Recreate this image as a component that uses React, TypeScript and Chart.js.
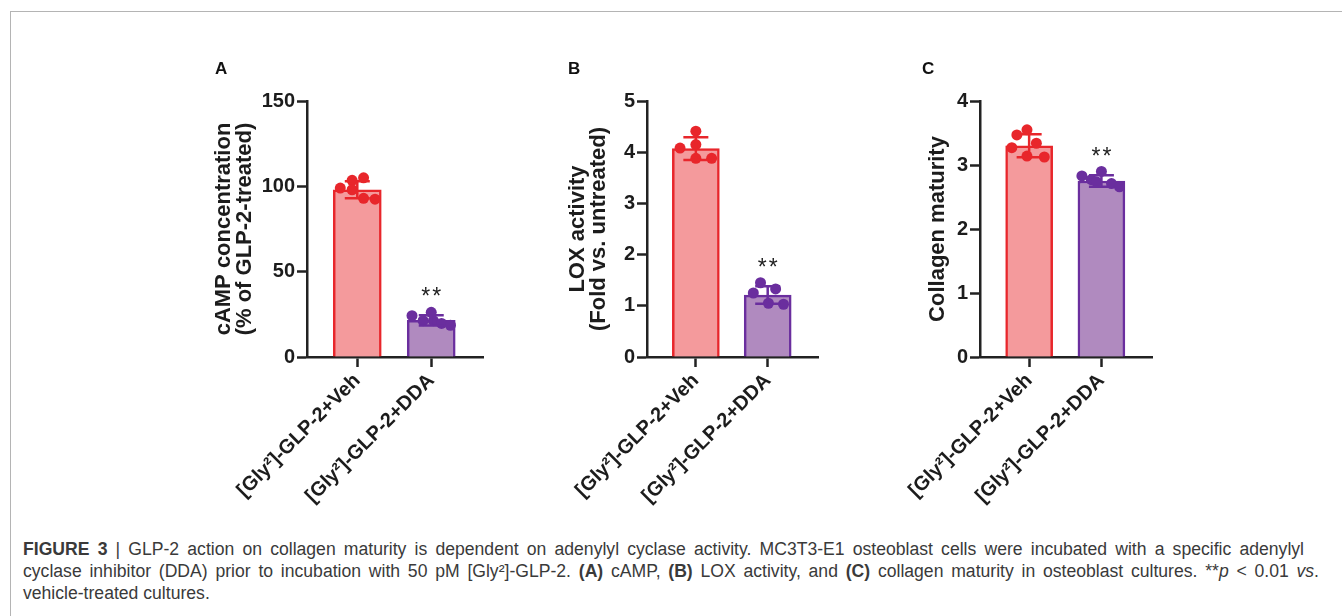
import React, { useEffect, useRef } from "react";
import { Chart, registerables } from "chart.js";

Chart.register(...registerables);

const FONT = "'Liberation Sans', Arial, Helvetica, sans-serif";

// ---------- data ----------
const categories = ["[Gly²]-GLP-2+Veh", "[Gly²]-GLP-2+DDA"];

// Panel A – cAMP
const titleA = ["cAMP concentration", "(% of GLP-2-treated)"];
const ticksA = [0, 50, 100, 150];
const meanA = [98, 21.5];
const sdA = [5, 3];
const vehA = [99, 103.5, 105, 98, 93, 92.5];
const vehJitterA = [-0.23, -0.07, 0.085, -0.07, 0.085, 0.24];
const ddaA = [24.2, 21.3, 26.2, 21.3, 19.7, 18.6];
const ddaJitterA = [-0.26, -0.11, 0, 0.03, 0.14, 0.26];
const sigA = ["", "**"];

// Panel B – LOX activity
const titleB = ["LOX activity", "(Fold vs. untreated)"];
const ticksB = [0, 1, 2, 3, 4, 5];
const meanB = [4.07, 1.21];
const sdB = [0.22, 0.17];
const vehB = [4.08, 4.41, 4.15, 3.88, 3.88];
const vehJitterB = [-0.22, 0, 0, 0, 0.22];
const ddaB = [1.25, 1.45, 1.33, 1.05, 1.03];
const ddaJitterB = [-0.2, -0.1, 0.11, 0.01, 0.22];
const sigB = ["", "**"];

// Panel C – Collagen maturity
const titleC = ["Collagen maturity"];
const ticksC = [0, 1, 2, 3, 4];
const meanC = [3.3, 2.75];
const sdC = [0.18, 0.09];
const vehC = [3.47, 3.55, 3.27, 3.34, 3.14, 3.125];
const vehJitterC = [-0.17, -0.03, -0.24, 0.1, -0.03, 0.21];
const ddaC = [2.83, 2.9, 2.77, 2.71, 2.66, 2.74];
const ddaJitterC = [-0.27, 0, -0.14, 0.14, 0.25, -0.07];
const sigC = ["", "**"];

// ---------- styles ----------
const RED = "#E8262B";
const PINK = "#F49A9C";
const PURPLE = "#6A2E9E";
const LAVENDER = "#B08ABF";
const AXIS = "#222222";
const TEXT = "#1c1c1c";

type PanelProps = {
  letter: string;
  title: string[];
  ticks: number[];
  means: number[];
  sds: number[];
  veh: number[];
  vehJitter: number[];
  dda: number[];
  ddaJitter: number[];
  sig: string[];
  left: number;
  letterLeft: number;
  titlePad: number;
  padRight: number;
  barThickness: number;
};

const CANVAS_TOP = 40;
const CANVAS_W = 300;
const CANVAS_H = 480;
const AXIS_W = 107;

function Panel(p: PanelProps) {
  const ref = useRef<HTMLCanvasElement | null>(null);

  useEffect(() => {
    if (!ref.current) return;
    const errPlugin = {
      id: "errbars",
      afterDatasetsDraw(chart: any) {
        const { ctx } = chart;
        const x = chart.scales.x;
        const y = chart.scales.y;
        ctx.save();
        p.means.forEach((m, i) => {
          const px = x.getPixelForValue(i);
          const top = y.getPixelForValue(m + p.sds[i]);
          const bot = y.getPixelForValue(m - p.sds[i]);
          const col = i === 0 ? RED : PURPLE;
          ctx.strokeStyle = col;
          ctx.lineWidth = 2.5;
          ctx.lineCap = "butt";
          ctx.beginPath();
          ctx.moveTo(px, top);
          ctx.lineTo(px, bot);
          ctx.moveTo(px - 12.5, top);
          ctx.lineTo(px + 12.5, top);
          ctx.moveTo(px - 12.5, bot);
          ctx.lineTo(px + 12.5, bot);
          ctx.stroke();
          if (p.sig[i]) {
            ctx.fillStyle = "#222";
            ctx.font = `23px ${FONT}`;
            (ctx as any).letterSpacing = "2px";
            ctx.textAlign = "center";
            ctx.textBaseline = "alphabetic";
            ctx.fillText(p.sig[i], px + 1, top - 11);
          }
        });
        ctx.restore();
      },
    };

    const chart = new Chart(ref.current, {
      type: "bar",
      data: {
        datasets: [
          {
            type: "scatter",
            data: p.veh.map((v, i) => ({ x: 0 + p.vehJitter[i], y: v })),
            backgroundColor: RED,
            borderWidth: 0,
            pointRadius: 5.5,
            order: 0,
          } as any,
          {
            type: "scatter",
            data: p.dda.map((v, i) => ({ x: 1 + p.ddaJitter[i], y: v })),
            backgroundColor: PURPLE,
            borderWidth: 0,
            pointRadius: 5.5,
            order: 0,
          } as any,
          {
            type: "bar",
            data: p.means.map((m, i) => ({ x: i, y: m })),
            backgroundColor: [PINK, LAVENDER],
            borderColor: [RED, PURPLE],
            borderWidth: 2.5,
            borderSkipped: "bottom",
            barThickness: p.barThickness,
            order: 2,
          } as any,
        ],
      },
      options: {
        animation: false,
        responsive: false,
        events: [],
        layout: { padding: { top: 61, left: 0, right: p.padRight, bottom: 0 } },
        plugins: {
          legend: { display: false },
          tooltip: { enabled: false },
          title: { display: false },
        },
        scales: {
          x: {
            type: "linear",
            min: -0.68,
            max: 1.7,
            offset: false,
            afterBuildTicks: (s: any) => {
              s.ticks = categories.map((_, i) => ({ value: i }));
            },
            afterFit: (s: any) => {
              s.height = 163;
            },
            ticks: {
              callback: (v: any) => categories[Number(v)] ?? "",
              maxRotation: 45,
              minRotation: 45,
              autoSkip: false,
              padding: 2,
              color: TEXT,
              font: { family: FONT, size: 20, weight: "bold" },
            },
            grid: {
              offset: false,
              drawOnChartArea: false,
              drawTicks: true,
              tickLength: 10,
              tickWidth: 2.5,
              color: AXIS,
            },
            border: { display: true, color: AXIS, width: 2.5 },
          },
          y: {
            type: "linear",
            min: p.ticks[0],
            max: p.ticks[p.ticks.length - 1],
            afterBuildTicks: (s: any) => {
              s.ticks = p.ticks.map((v) => ({ value: v }));
            },
            afterFit: (s: any) => {
              s.width = AXIS_W;
            },
            ticks: {
              padding: 2,
              color: TEXT,
              font: { family: FONT, size: 20, weight: "bold" },
            },
            grid: {
              drawOnChartArea: false,
              drawTicks: true,
              tickLength: 10,
              tickWidth: 2.5,
              color: AXIS,
            },
            border: { display: true, color: AXIS, width: 2.5 },
            title: {
              display: true,
              text: p.title,
              color: TEXT,
              font: { family: FONT, size: 22, weight: "bold", lineHeight: 0.98 },
              padding: { top: p.titlePad, bottom: 0 },
            },
          },
        },
      } as any,
      plugins: [errPlugin],
    });
    return () => chart.destroy();
  }, []);

  return (
    <>
      <canvas
        ref={ref}
        width={CANVAS_W}
        height={CANVAS_H}
        style={{
          position: "absolute",
          left: p.left,
          top: CANVAS_TOP,
          width: CANVAS_W,
          height: CANVAS_H,
        }}
      />
      <div
        style={{
          position: "absolute",
          left: p.letterLeft,
          top: 60,
          fontFamily: FONT,
          fontWeight: "bold",
          fontSize: 17,
          lineHeight: 1,
          color: "#111",
        }}
      >
        {p.letter}
      </div>
    </>
  );
}

export default function App() {
  const capBase: React.CSSProperties = {
    whiteSpace: "nowrap",
    height: 22,
    lineHeight: "22px",
  };
  const capJust = (w: number): React.CSSProperties => ({
    ...capBase,
    whiteSpace: "normal",
    width: w,
    textAlign: "justify",
    textAlignLast: "justify",
    overflow: "hidden",
  });
  return (
    <div
      style={{
        position: "absolute",
        left: 0,
        top: 0,
        width: 1342,
        height: 616,
        background: "#ffffff",
        overflow: "hidden",
      }}
    >
      <div
        style={{
          position: "absolute",
          left: 10,
          top: 11,
          width: 1340,
          height: 620,
          borderLeft: "1.6px solid #b4b4b4",
          borderTop: "1.6px solid #b4b4b4",
        }}
      />
      <Panel
        letter="A"
        title={titleA}
        ticks={ticksA}
        means={meanA}
        sds={sdA}
        veh={vehA}
        vehJitter={vehJitterA}
        dda={ddaA}
        ddaJitter={ddaJitterA}
        sig={sigA}
        left={200}
        letterLeft={215}
        titlePad={12.75}
        padRight={17}
        barThickness={48}
      />
      <Panel
        letter="B"
        title={titleB}
        ticks={ticksB}
        means={meanB}
        sds={sdB}
        veh={vehB}
        vehJitter={vehJitterB}
        dda={ddaB}
        ddaJitter={ddaJitterB}
        sig={sigB}
        left={540}
        letterLeft={568}
        titlePad={26.75}
        padRight={22}
        barThickness={47}
      />
      <Panel
        letter="C"
        title={titleC}
        ticks={ticksC}
        means={meanC}
        sds={sdC}
        veh={vehC}
        vehJitter={vehJitterC}
        dda={ddaC}
        ddaJitter={ddaJitterC}
        sig={sigC}
        left={873}
        letterLeft={922}
        titlePad={53.75}
        padRight={21}
        barThickness={47}
      />
      <div
        style={{
          position: "absolute",
          left: 23,
          top: 538,
          fontFamily: FONT,
          fontSize: 17.6,
          color: "#3a3a3a",
        }}
      >
        <div style={capJust(1281)}>
          <b>FIGURE 3</b> | GLP-2 action on collagen maturity is dependent on adenylyl cyclase
          activity. MC3T3-E1 osteoblast cells were incubated with a specific adenylyl
        </div>
        <div style={capJust(1296)}>
          cyclase inhibitor (DDA) prior to incubation with 50 pM [Gly²]-GLP-2. <b>(A)</b> cAMP,{" "}
          <b>(B)</b> LOX activity, and <b>(C)</b> collagen maturity in osteoblast cultures. **
          <i>p</i> &lt; 0.01 <i>vs</i>.
        </div>
        <div style={capBase}>vehicle-treated cultures.</div>
      </div>
    </div>
  );
}
